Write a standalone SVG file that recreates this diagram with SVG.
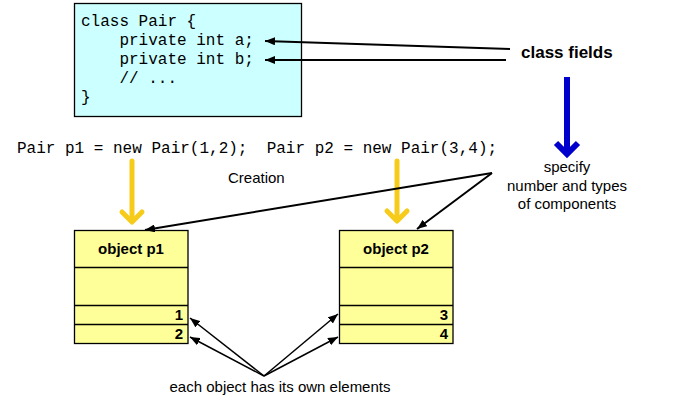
<svg xmlns="http://www.w3.org/2000/svg" width="683" height="418" viewBox="0 0 683 418">
<style>
.code{font-family:"Liberation Mono","Courier New",monospace;font-size:16px;fill:#000}
.lbl{font-family:"Liberation Sans",Arial,sans-serif;font-size:15px;fill:#000}
.bold{font-family:"Liberation Sans",Arial,sans-serif;font-weight:bold;fill:#000}
.obj{fill:#ffff99;stroke:#000;stroke-width:1.3}
.div{stroke:#000;stroke-width:1.3}
.conn{stroke:#000;stroke-width:2;fill:none}
.thin{stroke:#000;stroke-width:1.5;fill:none}
.yel{stroke:#f7cb1a;stroke-width:5;fill:none;stroke-linecap:round;stroke-linejoin:round}
.blue{stroke:#0000cc;stroke-width:6;fill:none;stroke-linejoin:miter}
</style>
<defs>
<marker id="ah" viewBox="0 0 10 8" refX="10" refY="4" markerWidth="10" markerHeight="8" markerUnits="userSpaceOnUse" orient="auto">
<path d="M0,0 L10,4 L0,8 Z" fill="#000"/>
</marker>
</defs>
<rect width="683" height="418" fill="#fff"/>
<g id="classbox">
<rect x="74.5" y="3.5" width="227" height="113" fill="#ccffff" stroke="#000" stroke-width="1.3"/>
<text class="code" x="81" y="26" xml:space="preserve">class Pair {</text>
<text class="code" x="81" y="45" xml:space="preserve">    private int a;</text>
<text class="code" x="81" y="64" xml:space="preserve">    private int b;</text>
<text class="code" x="81" y="83" xml:space="preserve">    // ...</text>
<text class="code" x="81" y="102" xml:space="preserve">}</text>
</g>
<g id="classfields">
<text class="bold" x="521" y="58" font-size="17">class fields</text>
</g>
<g id="creationcode">
<text class="code" x="17" y="153" xml:space="preserve">Pair p1 = new Pair(1,2);  Pair p2 = new Pair(3,4);</text>
</g>
<g id="creation">
<text class="lbl" x="228" y="183">Creation</text>
</g>
<g id="specify">
<text class="lbl" x="567" y="172" text-anchor="middle">specify</text>
<text class="lbl" x="567" y="191" text-anchor="middle">number and types</text>
<text class="lbl" x="567" y="209" text-anchor="middle">of components</text>
</g>
<g id="p1">
<rect class="obj" x="74.5" y="230.5" width="113.5" height="113"/>
<line class="div" x1="74.5" y1="267.5" x2="188" y2="267.5"/>
<line class="div" x1="74.5" y1="305.5" x2="188" y2="305.5"/>
<line class="div" x1="74.5" y1="324.5" x2="188" y2="324.5"/>
<text class="bold" x="131" y="254" font-size="15" text-anchor="middle">object p1</text>
<text class="bold" x="183" y="320" font-size="15" text-anchor="end">1</text>
<text class="bold" x="183" y="339" font-size="15" text-anchor="end">2</text>
</g>
<g id="p2">
<rect class="obj" x="339.5" y="230.5" width="113.5" height="113"/>
<line class="div" x1="339.5" y1="267.5" x2="453" y2="267.5"/>
<line class="div" x1="339.5" y1="305.5" x2="453" y2="305.5"/>
<line class="div" x1="339.5" y1="324.5" x2="453" y2="324.5"/>
<text class="bold" x="396" y="254" font-size="15" text-anchor="middle">object p2</text>
<text class="bold" x="448" y="320" font-size="15" text-anchor="end">3</text>
<text class="bold" x="448" y="339" font-size="15" text-anchor="end">4</text>
</g>
<g id="elements">
<text class="lbl" x="280" y="392" text-anchor="middle" font-size="15.5">each object has its own elements</text>
</g>
<g id="connectors">
<line class="conn" x1="510" y1="49" x2="265" y2="41" marker-end="url(#ah)"/>
<line class="conn" x1="506" y1="60" x2="265" y2="60" marker-end="url(#ah)"/>
<line class="blue" x1="567" y1="77" x2="567" y2="152"/>
<polyline class="blue" points="556,143 567,154 578,143"/>
<line class="yel" x1="132" y1="161" x2="132" y2="220"/>
<polyline class="yel" points="122,212 132,222 142,212"/>
<line class="yel" x1="397" y1="161" x2="397" y2="219"/>
<polyline class="yel" points="387,211 397,221 407,211"/>
<line class="conn" x1="492" y1="173" x2="145" y2="230" marker-end="url(#ah)"/>
<line class="conn" x1="492" y1="173" x2="417" y2="229" marker-end="url(#ah)"/>
<line class="thin" x1="264" y1="376" x2="190" y2="318" marker-end="url(#ah)"/>
<line class="thin" x1="264" y1="376" x2="190" y2="337" marker-end="url(#ah)"/>
<line class="thin" x1="264" y1="376" x2="338" y2="314" marker-end="url(#ah)"/>
<line class="thin" x1="264" y1="376" x2="338" y2="337" marker-end="url(#ah)"/>
</g>
</svg>
